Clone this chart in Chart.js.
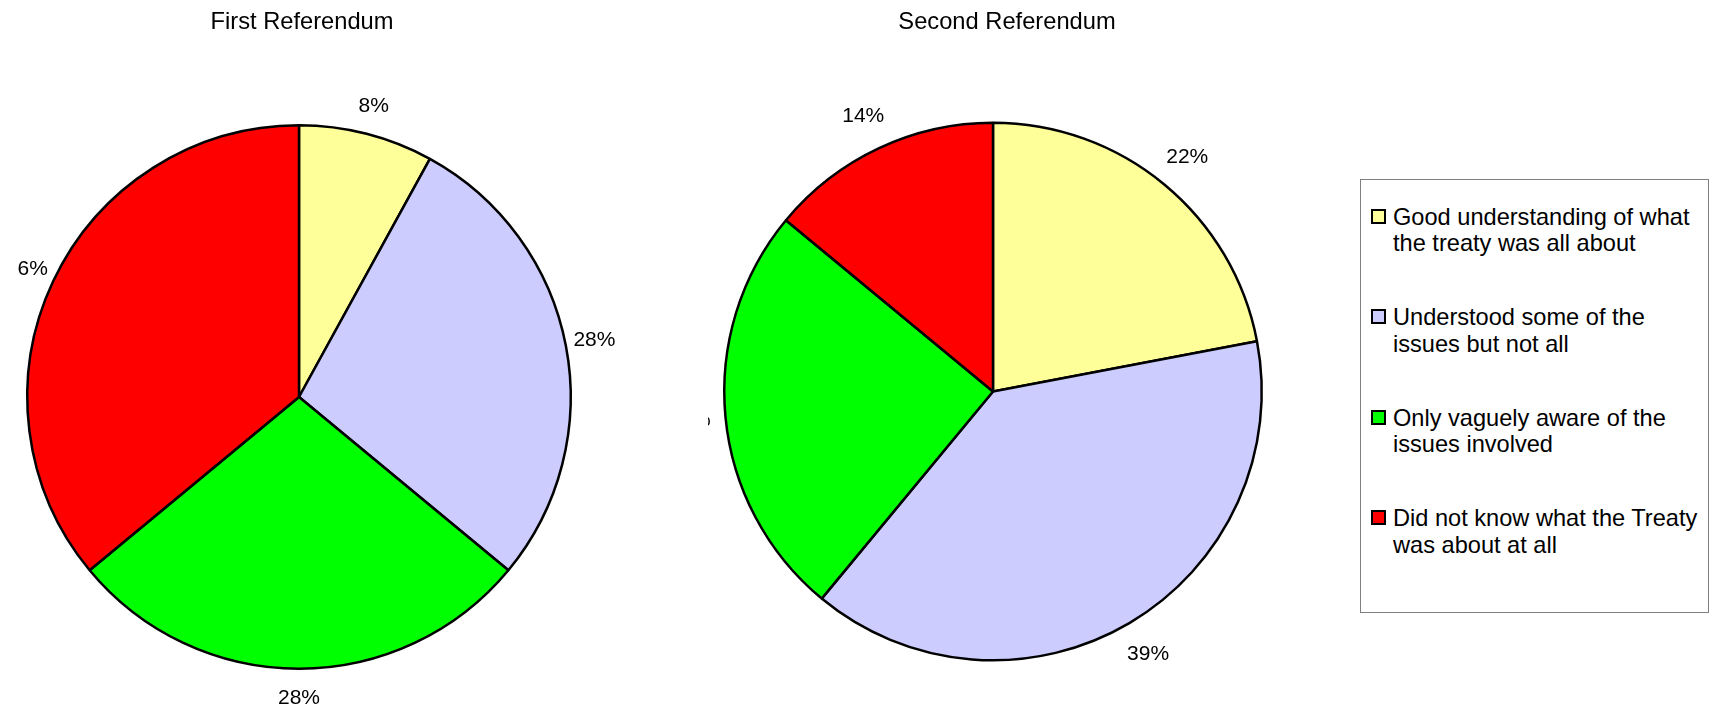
<!DOCTYPE html>
<html>
<head>
<meta charset="utf-8">
<script src="https://cdn.jsdelivr.net/npm/chart.js@4.4.1/dist/chart.umd.min.js"></script>
<style>
  html, body { margin: 0; padding: 0; background: #fff; }
  body { width: 1711px; height: 708px; position: relative; overflow: hidden; font-family: "Liberation Sans", Arial, sans-serif; }
  canvas { position: absolute; top: 0; }
  #first { left: 17px; }
  #second { left: 708px; }
  #legend { position: absolute; left: 1360px; top: 179px; width: 347px; height: 432px; border: 1px solid #808080; }
  .item { position: absolute; left: 0; }
  .swatch { position: absolute; left: 10px; top: 5px; width: 15px; height: 15px; box-sizing: border-box; border: 2px solid #000; }
  .label { position: absolute; left: 32px; top: 0; width: 316px; font-size: 23.6px; line-height: 26.7px; color: #000; }
</style>
</head>
<body>
<canvas id="first" width="680" height="708"></canvas>
<canvas id="second" width="640" height="708"></canvas>
<div id="legend"></div>
<script>
// ---- data ----
const categories = [
  'Good understanding of what the treaty was all about',
  'Understood some of the issues but not all',
  'Only vaguely aware of the issues involved',
  'Did not know what the Treaty was about at all'
];
const firstReferendum = [8, 28, 28, 36];
const secondReferendum = [22, 39, 25, 14];
const sliceColors = ['#FFFF99', '#CCCCFF', '#00FF00', '#FF0000'];

const FONT = '"Liberation Sans", Arial, sans-serif';

// percent labels just outside each slice
const pctLabels = {
  id: 'pctLabels',
  afterDatasetsDraw(chart, args, opts) {
    const ctx = chart.ctx;
    const meta = chart.getDatasetMeta(0);
    const values = chart.data.datasets[0].data;
    ctx.save();
    ctx.font = '21px ' + FONT;
    ctx.fillStyle = '#000';
    ctx.textAlign = 'center';
    ctx.textBaseline = 'middle';
    meta.data.forEach((arc, i) => {
      const p = arc.getProps(['x', 'y', 'startAngle', 'endAngle', 'outerRadius'], true);
      const mid = (p.startAngle + p.endAngle) / 2;
      const d = p.outerRadius + opts.offset;
      ctx.fillText(values[i] + '%', p.x + Math.cos(mid) * d, p.y + Math.sin(mid) * d);
    });
    ctx.restore();
  }
};

// nudge the title sideways, the pie keeps its own centre
const titleShift = {
  id: 'titleShift',
  afterLayout(chart, args, opts) {
    const t = chart.titleBlock;
    if (t && opts.dx) { t.left += opts.dx; t.right += opts.dx; }
  }
};

function makePie(id, title, values, pad, titleGap, labelOffset, dx) {
  return new Chart(document.getElementById(id), {
    type: 'pie',
    data: {
      labels: categories,
      datasets: [{
        data: values,
        backgroundColor: sliceColors,
        borderColor: '#000',
        borderWidth: 2.5
      }]
    },
    options: {
      responsive: false,
      devicePixelRatio: 1,
      animation: false,
      layout: { padding: pad },
      plugins: {
        legend: { display: false },
        tooltip: { enabled: false },
        title: {
          display: true, text: title, color: '#000',
          font: { family: FONT, size: 23.7, weight: 'normal', lineHeight: 1.2 },
          padding: { top: 8.3, bottom: titleGap }
        },
        pctLabels: { offset: labelOffset },
        titleShift: { dx: dx }
      }
    },
    plugins: [pctLabels, titleShift]
  });
}

makePie('first', 'First Referendum', firstReferendum,
  { left: 9, right: 125, top: 0, bottom: 38 }, 87.3, 29, 3);
makePie('second', 'Second Referendum', secondReferendum,
  { left: 15, right: 85, top: 0, bottom: 46.5 }, 84.8, 36, 14);

// legend shared by both pies
const legendEl = document.getElementById('legend');
categories.forEach((name, i) => {
  const item = document.createElement('div');
  item.className = 'item';
  item.style.top = (23.5 + i * 100.5) + 'px';
  const sw = document.createElement('div');
  sw.className = 'swatch';
  sw.style.background = sliceColors[i];
  const lb = document.createElement('div');
  lb.className = 'label';
  lb.textContent = name;
  item.appendChild(sw);
  item.appendChild(lb);
  legendEl.appendChild(item);
});
</script>
</body>
</html>
